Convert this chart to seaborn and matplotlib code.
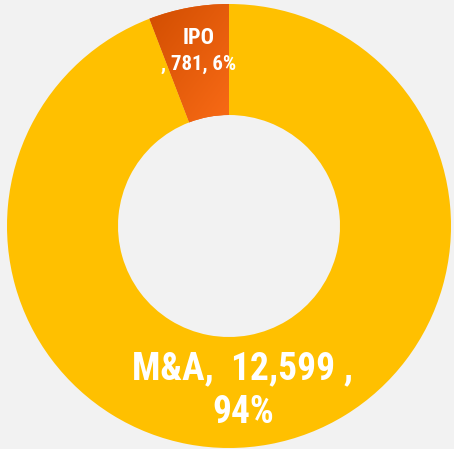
import numpy as np
import matplotlib
matplotlib.use("Agg")
import matplotlib.pyplot as plt
import seaborn as sns
from matplotlib.colors import LinearSegmentedColormap

# data
categories = ["IPO", "M&A"]
values = [781, 12599]
pct_labels = ["6%", "94%"]
value_labels = ["781", "12,599"]

sns.set_theme(style="white")
plt.rcParams["font.family"] = ["Roboto Condensed", "Roboto", "DejaVu Sans"]

bg = "#f2f2f2"
fig = plt.figure(figsize=(4.54, 4.49), dpi=100, facecolor=bg)
ax = fig.add_axes([7 / 454, 1 / 449, 444 / 454, 444 / 449])
ax.set_facecolor(bg)

wedges, _ = ax.pie(values, startangle=90, counterclock=True, radius=1.0,
                   colors=["#e85d0c", "#ffc000"],
                   wedgeprops=dict(width=0.5, edgecolor="none"))

# gradient fill for the IPO slice (dark top-left -> lighter bottom-right)
grad = LinearSegmentedColormap.from_list("ipo", ["#cf4c00", "#f96b16"])
gx, gy = np.meshgrid(np.linspace(0, 1, 200), np.linspace(0, 1, 200))
z = (gx + gy) / 2
img = ax.imshow(z, cmap=grad, extent=[-0.4, 0.0, 0.45, 1.0], origin="upper",
                zorder=wedges[0].get_zorder() + 0.1)
img.set_clip_path(wedges[0])
ax.set_xlim(-1, 1)
ax.set_ylim(-1, 1)
ax.set_aspect("equal")
ax.axis("off")

ax.text(-0.135, 0.847, categories[0], color="white", fontsize=16, fontweight="bold",
        ha="center", va="center", zorder=5)
ax.text(-0.135, 0.73, f", {value_labels[0]}, {pct_labels[0]}", color="white",
        fontsize=15, fontweight="bold", ha="center", va="center", zorder=5)

ax.text(0.063, -0.644, f"{categories[1]},  {value_labels[1]} ,", color="white",
        fontsize=27, fontweight="bold", ha="center", va="center", zorder=5)
ax.text(0.063, -0.838, pct_labels[1], color="white", fontsize=27,
        fontweight="bold", ha="center", va="center", zorder=5)

fig.savefig("out.png", dpi=100, facecolor=bg)
